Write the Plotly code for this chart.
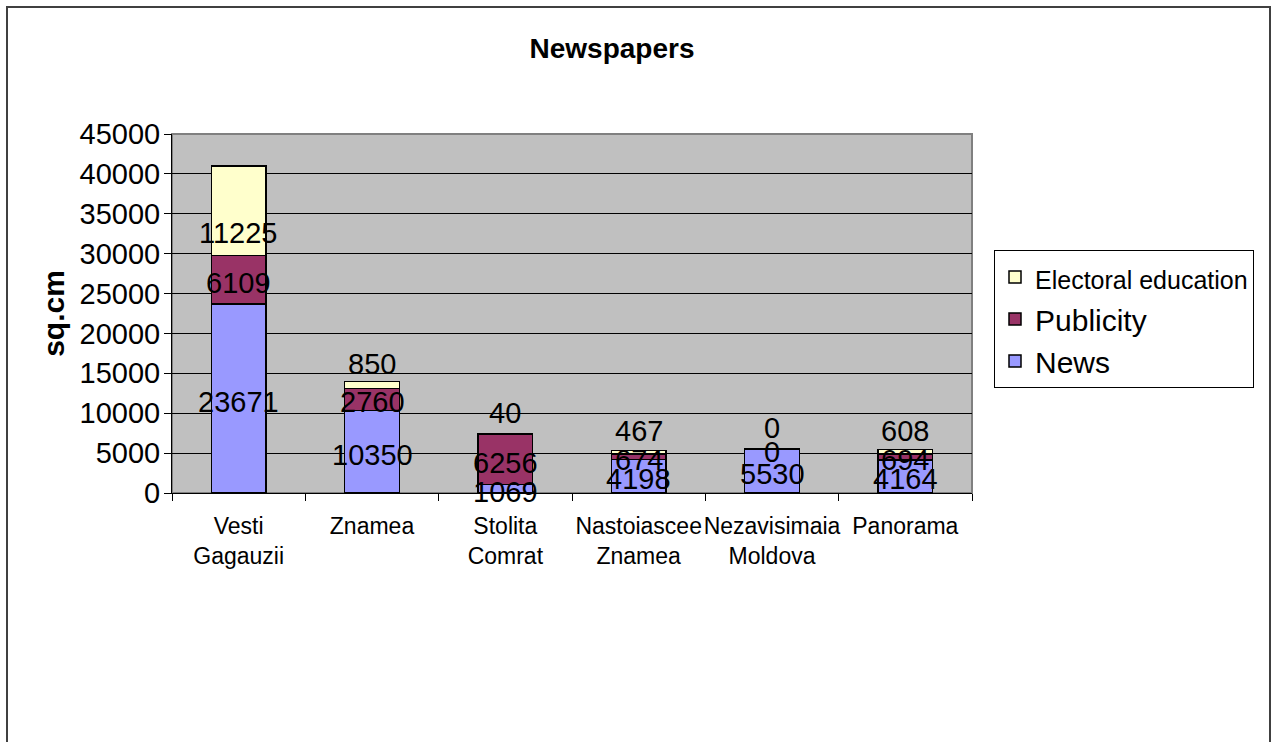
import plotly.graph_objects as go

categories = ["Vesti<br>Gagauzii", "Znamea", "Stolita<br>Comrat",
              "Nastoiascee<br>Znamea", "Nezavisimaia<br>Moldova", "Panorama"]
news = [23671, 10350, 1069, 4198, 5530, 4164]
publicity = [6109, 2760, 6256, 674, 0, 694]
electoral = [11225, 850, 40, 467, 0, 608]

series = [
    ("News", news, "#9999FF"),
    ("Publicity", publicity, "#993366"),
    ("<span style='font-size:25px'>Electoral education</span>", electoral, "#FFFFCC"),
]

W, H = 1277, 742
ML, MR, MT, MB = 172, 305, 134, 249
PW, PH = W - ML - MR, H - MT - MB
YMAX = 45000
FONT = "Liberation Sans, Arial, sans-serif"

fig = go.Figure()
for name, vals, col in series:
    fig.add_trace(go.Bar(
        x=categories, y=vals, name=name,
        marker=dict(color=col, line=dict(color="black", width=1.5)),
        hoverinfo="y",
    ))

# data labels (value at segment centre, Excel-like)
ann = []
base = [0] * len(categories)
for si, (name, vals, col) in enumerate(series):
    for i, v in enumerate(vals):
        ycen = base[i] + v / 2
        shift = -3
        if si == len(series) - 1:
            shift = -22 if v > 5000 else 21
        ann.append(dict(x=categories[i], y=ycen, xref="x", yref="y",
                        text=str(v), showarrow=False, yshift=shift,
                        font=dict(family=FONT, size=29, color="black")))
        base[i] += v

fig.update_layout(
    width=W, height=H,
    margin=dict(l=ML, r=MR, t=MT, b=MB, autoexpand=False),
    barmode="stack", bargap=0.59,
    paper_bgcolor="white", plot_bgcolor="#C0C0C0",
    font=dict(family=FONT, color="black"),
    title=dict(text="<b>Newspapers</b>", x=612 / W, xanchor="center",
               y=1 - 48 / H, yanchor="middle", yref="container",
               font=dict(family=FONT, size=28, color="black")),
    xaxis=dict(showgrid=False, showline=True, linecolor="black", linewidth=1,
               ticks="outside", tickson="boundaries", ticklen=7, tickcolor="black",
               tickangle=0, ticklabelstandoff=12,
               tickfont=dict(family=FONT, size=23, color="black"),
               automargin=False),
    yaxis=dict(range=[0, YMAX], dtick=5000, tick0=0, tickformat="d",
               showgrid=True, gridcolor="black", gridwidth=1, zeroline=False,
               showline=True, linecolor="black", linewidth=1,
               ticks="outside", ticklen=7, tickcolor="black",
               ticklabelstandoff=-2,
               tickfont=dict(family=FONT, size=29, color="black"),
               title=dict(text="<b>sq.cm</b>", standoff=6,
                          font=dict(family=FONT, size=30, color="black")),
               automargin=False),
    legend=dict(x=(994 - ML) / PW, xanchor="left", y=(H - MB - 250) / PH, yanchor="top",
                bgcolor="white", bordercolor="black", borderwidth=1,
                traceorder="reversed", itemwidth=30,
                font=dict(family=FONT, size=30, color="black")),
    annotations=ann,
    showlegend=True,
)

# plot area border (grey) and outer chart border
fig.add_shape(type="rect", xref="paper", yref="paper", x0=0, x1=1, y0=0, y1=1,
              line=dict(color="#808080", width=2), layer="below")
fig.add_shape(type="rect", xref="paper", yref="paper",
              x0=(7 - ML) / PW, x1=(1270 - ML) / PW,
              y0=(H - MB - 760) / PH, y1=(H - MB - 7) / PH,
              line=dict(color="#404040", width=2), layer="above")

fig.write_html("out.html")
